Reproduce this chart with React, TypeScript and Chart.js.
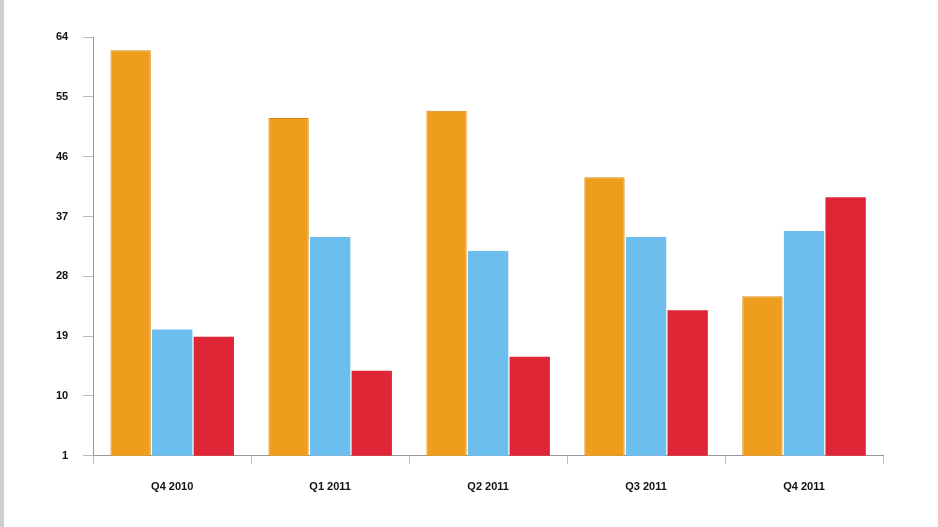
import React, { useEffect, useRef } from "react";
import { Chart, registerables } from "chart.js";

Chart.register(...registerables);

const categories = ["Q4 2010", "Q1 2011", "Q2 2011", "Q3 2011", "Q4 2011"];
const seriesA = [62, 51.8, 52.9, 42.9, 25];
const seriesB = [20, 33.9, 31.8, 33.9, 34.8];
const seriesC = [18.9, 13.8, 15.9, 22.9, 39.9];
const yTicks = [1, 10, 19, 28, 37, 46, 55, 64];

export default function App() {
  const ref = useRef<HTMLCanvasElement | null>(null);
  useEffect(() => {
    document.body.style.margin = "0";
    const ctx = ref.current!;
    const chart = new Chart(ctx, {
      type: "bar",
      data: {
        labels: categories,
        datasets: [
          { label: "A", data: seriesA, backgroundColor: "#EF9D1C", borderColor: "#D98A12", borderWidth: { left: 1, right: 1, top: 1, bottom: 0 } as any },
          { label: "B", data: seriesB, backgroundColor: "#6CBEEE", borderColor: "#5AAEE0", borderWidth: 0 },
          { label: "C", data: seriesC, backgroundColor: "#DE2636", borderColor: "#C81E2E", borderWidth: 0 },
        ],
      },
      options: {
        animation: false,
        responsive: false,
        layout: { padding: { left: 41, right: 55, top: 37, bottom: 16 } },
        plugins: { legend: { display: false }, tooltip: { enabled: false } },
        datasets: { bar: { categoryPercentage: 0.79, barPercentage: 0.97 } },
        scales: {
          x: {
            grid: { drawOnChartArea: false, drawTicks: true, tickLength: 8, color: "#bbbbbb", offset: true },
            border: { color: "#999999", width: 1 },
            ticks: { color: "#111", font: { family: "Liberation Sans", size: 11, weight: "bold" }, padding: 17 },
          },
          y: {
            min: 1,
            max: 64,
            afterBuildTicks: (s: any) => {
              s.ticks = yTicks.map((v) => ({ value: v }));
            },
            grid: { drawOnChartArea: false, drawTicks: true, tickLength: 10, color: "#bbbbbb" },
            border: { color: "#999999", width: 1 },
            ticks: { color: "#111", font: { family: "Liberation Sans", size: 11, weight: "bold" }, padding: 15 },
          },
        },
      },
    });
    return () => chart.destroy();
  }, []);
  return (
    <div style={{ position: "relative", width: 938, height: 527, background: "#fff", overflow: "hidden" }}>
      <div style={{ position: "absolute", left: 0, top: 0, width: 4, height: 527, background: "#cfcfcf" }} />
      <canvas ref={ref} width={938} height={527} style={{ display: "block" }} />
    </div>
  );
}
